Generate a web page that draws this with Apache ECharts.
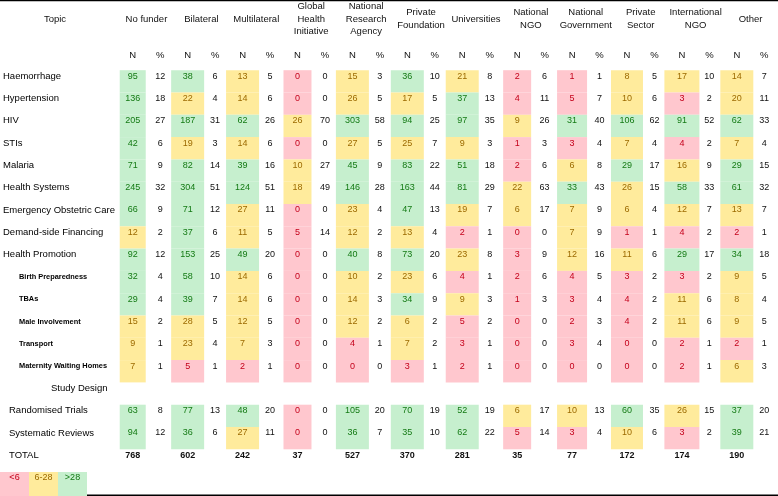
<!DOCTYPE html>
<html>
<head>
<meta charset="utf-8">
<script src="https://cdn.jsdelivr.net/npm/echarts@6/dist/echarts.min.js"></script>
<style>
html, body { margin: 0; padding: 0; background: #fff; }
#main { width: 778px; height: 496px; }
</style>
</head>
<body>
<div id="main"></div>
<script>
// rows of the table (left column)
var topics = ['Haemorrhage', 'Hypertension', 'HIV', 'STIs', 'Malaria', 'Health Systems',
    'Emergency Obstetric Care', 'Demand-side Financing', 'Health Promotion',
    'Birth Preparedness', 'TBAs', 'Male Involvement', 'Transport', 'Maternity Waiting Homes',
    'Study Design', 'Randomised Trials', 'Systematic Reviews', 'TOTAL'];
var subTopics = ['Birth Preparedness', 'TBAs', 'Male Involvement', 'Transport', 'Maternity Waiting Homes'];
// rows that carry numbers, in the order of the arrays below
var dataTopics = ['Haemorrhage', 'Hypertension', 'HIV', 'STIs', 'Malaria', 'Health Systems',
    'Emergency Obstetric Care', 'Demand-side Financing', 'Health Promotion',
    'Birth Preparedness', 'TBAs', 'Male Involvement', 'Transport', 'Maternity Waiting Homes',
    'Randomised Trials', 'Systematic Reviews'];

var funders = ['No funder', 'Bilateral', 'Multilateral', 'Global\nHealth\nInitiative',
    'National\nResearch\nAgency', 'Private\nFoundation', 'Universities', 'National\nNGO',
    'National\nGovernment', 'Private\nSector', 'International\nNGO', 'Other'];
var subHeaders = ['N', '%'];

var nNoFunder      = [95, 136, 205, 42, 71, 245, 66, 12, 92, 32, 29, 15, 9, 7, 63, 94];
var pNoFunder      = [12, 18, 27, 6, 9, 32, 9, 2, 12, 4, 4, 2, 1, 1, 8, 12];
var nBilateral     = [38, 22, 187, 19, 82, 304, 71, 37, 153, 58, 39, 28, 23, 5, 77, 36];
var pBilateral     = [6, 4, 31, 3, 14, 51, 12, 6, 25, 10, 7, 5, 4, 1, 13, 6];
var nMultilateral  = [13, 14, 62, 14, 39, 124, 27, 11, 49, 14, 14, 12, 7, 2, 48, 27];
var pMultilateral  = [5, 6, 26, 6, 16, 51, 11, 5, 20, 6, 6, 5, 3, 1, 20, 11];
var nGlobalHealth  = [0, 0, 26, 0, 10, 18, 0, 5, 0, 0, 0, 0, 0, 0, 0, 0];
var pGlobalHealth  = [0, 0, 70, 0, 27, 49, 0, 14, 0, 0, 0, 0, 0, 0, 0, 0];
var nResearch      = [15, 26, 303, 27, 45, 146, 23, 12, 40, 10, 14, 12, 4, 0, 105, 36];
var pResearch      = [3, 5, 58, 5, 9, 28, 4, 2, 8, 2, 3, 2, 1, 0, 20, 7];
var nFoundation    = [36, 17, 94, 25, 83, 163, 47, 13, 73, 23, 34, 6, 7, 3, 70, 35];
var pFoundation    = [10, 5, 25, 7, 22, 44, 13, 4, 20, 6, 9, 2, 2, 1, 19, 10];
var nUniversities  = [21, 37, 97, 9, 51, 81, 19, 2, 23, 4, 9, 5, 3, 2, 52, 62];
var pUniversities  = [8, 13, 35, 3, 18, 29, 7, 1, 8, 1, 3, 2, 1, 1, 19, 22];
var nNationalNgo   = [2, 4, 9, 1, 2, 22, 6, 0, 3, 2, 1, 0, 0, 0, 6, 5];
var pNationalNgo   = [6, 11, 26, 3, 6, 63, 17, 0, 9, 6, 3, 0, 0, 0, 17, 14];
var nGovernment    = [1, 5, 31, 3, 6, 33, 7, 7, 12, 4, 3, 2, 3, 0, 10, 3];
var pGovernment    = [1, 7, 40, 4, 8, 43, 9, 9, 16, 5, 4, 3, 4, 0, 13, 4];
var nPrivateSector = [8, 10, 106, 7, 29, 26, 6, 1, 11, 3, 4, 4, 0, 0, 60, 10];
var pPrivateSector = [5, 6, 62, 4, 17, 15, 4, 1, 6, 2, 2, 2, 0, 0, 35, 6];
var nIntlNgo       = [17, 3, 91, 4, 16, 58, 12, 4, 29, 3, 11, 11, 2, 2, 26, 3];
var pIntlNgo       = [10, 2, 52, 2, 9, 33, 7, 2, 17, 2, 6, 6, 1, 1, 15, 2];
var nOther         = [14, 20, 62, 7, 29, 61, 13, 2, 34, 9, 8, 9, 2, 6, 37, 39];
var pOther         = [7, 11, 33, 4, 15, 32, 7, 1, 18, 5, 4, 5, 1, 3, 20, 21];
var totals = [768, 602, 242, 37, 527, 370, 281, 35, 77, 172, 174, 190];

// colour key
var keyLabels = ['<6', '6-28', '>28'];

var nByFunder = [nNoFunder, nBilateral, nMultilateral, nGlobalHealth, nResearch, nFoundation,
    nUniversities, nNationalNgo, nGovernment, nPrivateSector, nIntlNgo, nOther];
var pByFunder = [pNoFunder, pBilateral, pMultilateral, pGlobalHealth, pResearch, pFoundation,
    pUniversities, pNationalNgo, pGovernment, pPrivateSector, pIntlNgo, pOther];

// styles
var FONT = '"Liberation Sans", Arial, Helvetica, sans-serif';
var binFill = ['#ffc7ce', '#ffeb9c', '#c6efce'];
var binText = ['#c4001a', '#9c6a00', '#147a14'];
var cellWidths = [26, 33, 33, 28, 33, 33, 33, 28, 30, 32, 35, 33];

function binOf(v) {
    if (v < 6) return 0;
    if (v <= 28) return 1;
    return 2;
}

var subCols = [];
funders.forEach(function () { subCols.push(subHeaders[0], subHeaders[1]); });

var cellData = [], pctData = [], totalData = [];
nByFunder.forEach(function (arr, f) {
    arr.forEach(function (v, i) {
        var row = topics.indexOf(dataTopics[i]);
        cellData.push([2 * f, row, v]);
        pctData.push([2 * f + 1, row, pByFunder[f][i]]);
    });
    totalData.push([2 * f, topics.indexOf('TOTAL'), totals[f]]);
});
var keyData = keyLabels.map(function (l, i) { return [i, 0, l]; });

var chart = echarts.init(document.getElementById('main'), null, { renderer: 'canvas' });

var option = {
    animation: false,
    backgroundColor: '#fff',
    textStyle: { fontFamily: FONT },
    grid: [{
        left: 114, top: 64.85, width: 667, height: 401.6
    }, {
        left: 0, top: 466, width: 87, height: 24
    }],
    xAxis: [{
        type: 'category', gridIndex: 0, position: 'top', data: subCols,
        axisLine: { show: false }, axisTick: { show: false }, splitLine: { show: false },
        axisLabel: { interval: 0, margin: 10, verticalAlign: 'middle', fontSize: 9.5, color: '#111', fontFamily: FONT }
    }, {
        type: 'category', gridIndex: 0, position: 'top', offset: 40, data: funders,
        axisLine: { show: false }, axisTick: { show: false }, splitLine: { show: false },
        axisLabel: { interval: 0, margin: 6, verticalAlign: 'middle', align: 'center',
            lineHeight: 12.7, fontSize: 9.5, color: '#111', fontFamily: FONT }
    }, {
        type: 'category', gridIndex: 1, data: keyLabels, show: false
    }],
    yAxis: [{
        type: 'category', gridIndex: 0, data: topics, inverse: true,
        axisLine: { show: false }, axisTick: { show: false }, splitLine: { show: false },
        axisLabel: {
            interval: 0, margin: 116, align: 'left', color: '#000', fontSize: 9.5, fontFamily: FONT,
            formatter: function (v) {
                if (subTopics.indexOf(v) >= 0) return '{sub|' + v + '}';
                if (v === 'Study Design') return '{design|' + v + '}';
                if (v === 'Randomised Trials' || v === 'Systematic Reviews' || v === 'TOTAL') return '{study|' + v + '}';
                return '{main|' + v + '}';
            },
            rich: {
                main: { fontSize: 9.5, color: '#000', fontFamily: FONT },
                sub: { fontSize: 7.4, fontWeight: 'bold', color: '#000', fontFamily: FONT, padding: [0, 0, 0, 16] },
                design: { fontSize: 9.5, color: '#000', fontFamily: FONT, padding: [0, 0, 0, 48] },
                study: { fontSize: 9.5, color: '#000', fontFamily: FONT, padding: [0, 0, 0, 6] }
            }
        }
    }, {
        type: 'category', gridIndex: 1, data: ['key'], show: false
    }],
    graphic: [
        { type: 'rect', shape: { x: 0, y: 0, width: 778, height: 1.2 }, style: { fill: '#000' } },
        { type: 'rect', shape: { x: 0, y: 494.6, width: 778, height: 1.4 }, style: { fill: '#000' } },
        { type: 'text', x: 55, y: 19, style: { text: 'Topic', font: '9.5px ' + FONT, fill: '#111', align: 'center', verticalAlign: 'middle' } }
    ],
    series: [{
        name: 'N',
        type: 'custom',
        xAxisIndex: 0, yAxisIndex: 0,
        data: cellData,
        renderItem: function (params, api) {
            var c = api.coord([api.value(0), api.value(1)]);
            var h = api.size([0, 1])[1];
            var w = cellWidths[Math.round(api.value(0) / 2)];
            var v = api.value(2);
            var b = binOf(v);
            return {
                type: 'group',
                children: [{
                    type: 'rect',
                    shape: { x: c[0] - w / 2, y: c[1] - 6, width: w, height: h },
                    style: { fill: binFill[b] }
                }, {
                    type: 'text',
                    x: c[0], y: c[1],
                    style: { text: String(v), font: '9px ' + FONT, fill: binText[b], align: 'center', verticalAlign: 'middle' }
                }]
            };
        }
    }, {
        name: '%',
        type: 'custom',
        xAxisIndex: 0, yAxisIndex: 0,
        data: pctData,
        renderItem: function (params, api) {
            var c = api.coord([api.value(0), api.value(1)]);
            return {
                type: 'text',
                x: c[0], y: c[1],
                style: { text: String(api.value(2)), font: '9px ' + FONT, fill: '#111', align: 'center', verticalAlign: 'middle' }
            };
        }
    }, {
        name: 'TOTAL',
        type: 'custom',
        xAxisIndex: 0, yAxisIndex: 0,
        data: totalData,
        renderItem: function (params, api) {
            var c = api.coord([api.value(0), api.value(1)]);
            return {
                type: 'text',
                x: c[0], y: c[1],
                style: { text: String(api.value(2)), font: 'bold 9px ' + FONT, fill: '#111', align: 'center', verticalAlign: 'middle' }
            };
        }
    }, {
        name: 'key',
        type: 'custom',
        xAxisIndex: 2, yAxisIndex: 1,
        data: keyData,
        renderItem: function (params, api) {
            var i = api.value(0);
            var c = api.coord([i, 0]);
            var w = api.size([1, 0])[0];
            return {
                type: 'group',
                children: [{
                    type: 'rect',
                    shape: { x: c[0] - w / 2, y: c[1] - 6, width: w, height: 24 },
                    style: { fill: binFill[i] }
                }, {
                    type: 'text',
                    x: c[0], y: c[1],
                    style: { text: keyLabels[i], font: '9px ' + FONT, fill: binText[i], align: 'center', verticalAlign: 'middle' }
                }]
            };
        }
    }]
};

chart.setOption(option);
</script>
</body>
</html>
